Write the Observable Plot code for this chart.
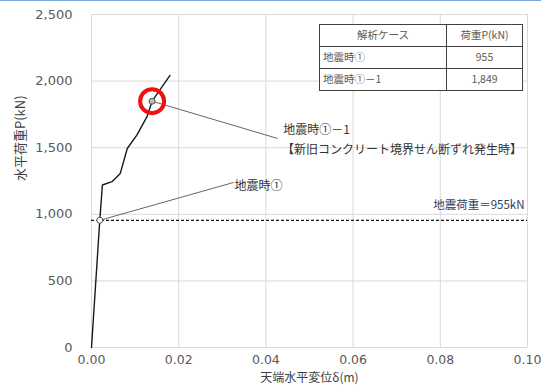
<!DOCTYPE html>
<html>
<head>
<meta charset="utf-8">
<script src="https://cdn.jsdelivr.net/npm/d3@7"></script>
<script src="https://cdn.jsdelivr.net/npm/@observablehq/plot@0.6"></script>
<style>
  html, body { margin: 0; padding: 0; background: #fff; }
  #wrap { position: relative; width: 541px; height: 388px; overflow: hidden; }
  #topline { position: absolute; left: 0; top: 0; width: 541px; height: 1px; background: #7aa7dd; }
  table.case { position: absolute; left: 319px; top: 24px; border-collapse: collapse; background: #fff;
    font-family: "Noto Sans CJK JP", "Noto Sans", sans-serif; font-size: 10.5px; color: #595959; }
  table.case td { border: 1px solid #404040; height: 21px; padding: 0 3px; line-height: 1; }
  table.case td.c { text-align: center; }
</style>
</head>
<body>
<div id="wrap"><div id="topline"></div></div>
<script>
// Load–displacement curve
const delta = [0, 0.0019, 0.0025, 0.0047, 0.0066, 0.0082, 0.0104, 0.0127, 0.0139, 0.0180];
const load  = [0, 955, 1220, 1245, 1307, 1494, 1594, 1731, 1849, 2043];

// Analysis cases (marked points)
const caseNames = ["地震時①", "地震時①－1"];
const caseDelta = [0.0019, 0.0139];
const caseLoad  = [955, 1849];
const caseLoadText = ["955", "1,849"];

// Seismic load reference
const seismicLoad = 955;
const seismicLabel = "地震荷重＝955kN";

// Annotation labels (data units)
const annoText  = ["地震時①", "地震時①－1", "【新旧コンクリート境界せん断ずれ発生時】"];
const annoDelta = [0.0328, 0.0440, 0.0437];
const annoLoad  = [1209, 1629, 1479];
const leaderEndDelta = [0.0326, 0.0427];
const leaderEndLoad  = [1239, 1569];

// Axis ticks
const xTicks = [0, 0.02, 0.04, 0.06, 0.08, 0.10];
const yTicks = [0, 500, 1000, 1500, 2000, 2500];
const xLabel = "天端水平変位δ(m)";
const yLabel = "水平荷重P(kN)";
const tableHeader = ["解析ケース", "荷重P(kN)"];

const curve = delta.map((d, i) => ({d, p: load[i]}));
const cases = caseNames.map((n, i) => ({n, d: caseDelta[i], p: caseLoad[i]}));
const leaders = cases.map((c, i) => ({x1: c.d, y1: c.p, x2: leaderEndDelta[i], y2: leaderEndLoad[i]}));
const annos = annoText.map((t, i) => ({t, d: annoDelta[i], p: annoLoad[i]}));

const jp = "'Noto Sans CJK JP', 'Noto Sans', sans-serif";

const chart = Plot.plot({
  width: 541,
  height: 388,
  marginLeft: 91,
  marginRight: 14,
  marginTop: 14,
  marginBottom: 41,
  style: {fontFamily: "'DejaVu Sans', sans-serif", fontSize: "13px", background: "transparent"},
  x: {domain: [0, 0.1]},
  y: {domain: [0, 2500]},
  marks: [
    Plot.gridX(xTicks, {stroke: "#d9d9d9", strokeOpacity: 1}),
    Plot.gridY(yTicks, {stroke: "#d9d9d9", strokeOpacity: 1}),
    Plot.axisX(xTicks, {tickSize: 0, tickPadding: 8, tickFormat: d => d.toFixed(2), fill: "#595959", label: null, fontSize: 12.5}),
    Plot.axisY(yTicks, {tickSize: 0, tickPadding: 19, tickFormat: d3.format(","), fill: "#595959", label: null, fontSize: 13}),
    Plot.text([xLabel], {frameAnchor: "bottom", dy: 34, fill: "#404040", fontFamily: jp, fontSize: 12}),
    Plot.text([yLabel], {frameAnchor: "left", dx: -71, rotate: -90, fill: "#404040", fontFamily: jp, fontSize: 13}),
    Plot.ruleY([seismicLoad], {stroke: "#111", strokeWidth: 1.3, strokeDasharray: "3,2"}),
    Plot.text([seismicLabel], {x: 0.0993, y: seismicLoad, dy: -15, textAnchor: "end", fill: "#2a3f6a", fontFamily: jp, fontSize: 11.5}),
    Plot.link(leaders, {x1: "x1", y1: "y1", x2: "x2", y2: "y2", stroke: "#666", strokeWidth: 1}),
    Plot.line(curve, {x: "d", y: "p", stroke: "#1a1a1a", strokeWidth: 1.4}),
    Plot.dot(cases, {x: "d", y: "p", r: 3, fill: (d, i) => i === 0 ? "#fff" : "#bbb", stroke: "#555", strokeWidth: 1}),
    Plot.dot([cases[1]], {x: "d", y: "p", r: 12, stroke: "#ee1111", strokeWidth: 4, fill: "none"}),
    Plot.text(annos, {x: "d", y: "p", text: "t", textAnchor: "start", fill: "#333", fontFamily: jp, fontSize: 12})
  ]
});
const wrap = document.getElementById("wrap");
wrap.appendChild(chart);
chart.style.position = "absolute";
chart.style.left = "0";
chart.style.top = "0";

// Case table
const table = document.createElement("table");
table.className = "case";
const rows = [[tableHeader[0], tableHeader[1], true]].concat(caseNames.map((n, i) => [n, caseLoadText[i], false]));
rows.forEach(([a, b, head]) => {
  const tr = document.createElement("tr");
  const td1 = document.createElement("td");
  td1.textContent = a;
  td1.style.width = "120px";
  if (head) td1.className = "c";
  const td2 = document.createElement("td");
  td2.textContent = b;
  td2.className = "c";
  td2.style.width = "69px";
  tr.appendChild(td1); tr.appendChild(td2);
  table.appendChild(tr);
});
wrap.appendChild(table);
</script>
</body>
</html>
